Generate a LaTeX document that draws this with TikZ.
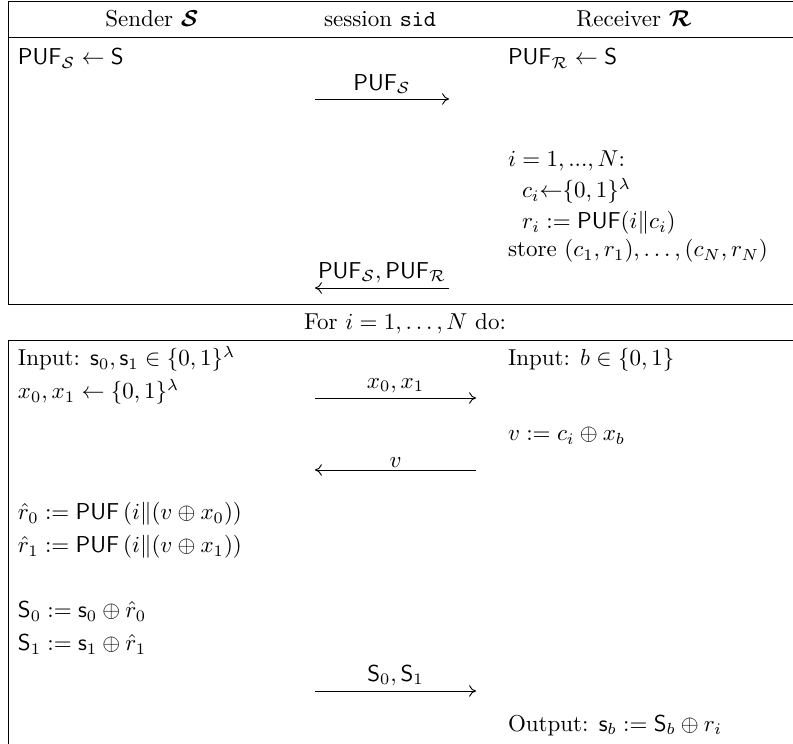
\documentclass[tikz,border=0pt]{standalone}
\usepackage{amsmath,amssymb,bm}
\usetikzlibrary{arrows.meta}
\newcommand{\PUF}{\mathsf{PUF}}
\begin{document}
\begin{tikzpicture}[x=0.4348pt,y=-0.4348pt,
  rule/.style={line width=0.4pt},
  txt/.style={anchor=base west,inner sep=0pt,outer sep=0pt},
  head/.style={anchor=base,inner sep=0pt,outer sep=0pt},
  msg/.style={line width=0.4pt,-{To[length=3pt,width=5pt]}},
  lbl/.style={above,inner sep=2pt}]
\useasboundingbox (0,0) rectangle (793,744);
% frames
\draw[rule] (793,1.5) -- (8,1.5) -- (8,304) -- (793,304);
\draw[rule] (8,37) -- (793,37);
\draw[rule] (793,340) -- (8,340) -- (8,744);
% header
\node[head] (hs) at (152,27) {Sender $\bm{\mathcal{S}}$};
\node[head] (hm) at (380,27) {session $\mathtt{sid}$};
\node[head] (hr) at (634,27) {Receiver $\bm{\mathcal{R}}$};
% phase 1
\node[txt] (s1) at (18,65) {$\PUF_{\mathcal{S}} \leftarrow \mathsf{S}$};
\node[txt] (r1) at (508,65) {$\PUF_{\mathcal{R}} \leftarrow \mathsf{S}$};
\coordinate (a1s) at (315,99); \coordinate (a1e) at (449,99);
\draw[msg] (a1s) -- (a1e) node[midway,lbl] (l1) {$\PUF_{\mathcal{S}}$};
\node[txt] (r2) at (508,167) {$i=1,...,N$:};
\node[txt] (r3) at (522,198) {$c_i{\leftarrow}\{0,1\}^\lambda$};
\node[txt] (r4) at (522,229) {$r_i:=\PUF(i\|c_i)$};
\node[txt] (r5) at (508,257) {store $(c_1,r_1),\ldots,(c_N,r_N)$};
\coordinate (a2s) at (449,288); \coordinate (a2e) at (315,288);
\draw[msg] (a2s) -- (a2e) node[midway,lbl] (l2) {$\PUF_{\mathcal{S}},\PUF_{\mathcal{R}}$};
% loop header
\node[head] (fr) at (405,330) {For $i=1,\ldots,N$ do:};
% phase 2
\node[txt] (s2) at (18,366) {Input: $\mathsf{s}_0,\mathsf{s}_1\in\{0,1\}^\lambda$};
\node[txt] (r6) at (508,366) {Input: $b\in\{0,1\}$};
\node[txt] (s3) at (18,399) {$x_0,x_1\leftarrow\{0,1\}^\lambda$};
\coordinate (a3s) at (315,398); \coordinate (a3e) at (476,398);
\draw[msg] (a3s) -- (a3e) node[midway,lbl] (l3) {$x_0,x_1$};
\node[txt] (r7) at (508,441) {$v:=c_i\oplus x_b$};
\coordinate (a4s) at (476,470); \coordinate (a4e) at (315,470);
\draw[msg] (a4s) -- (a4e) node[midway,above,inner sep=1pt] (l4) {$v$};
\node[txt] (s4) at (18,520) {$\hat r_0:=\PUF\left(i\|(v\oplus x_0)\right)$};
\node[txt] (s5) at (18,553) {$\hat r_1:=\PUF\left(i\|(v\oplus x_1)\right)$};
\node[txt] (s6) at (18,618) {$\mathsf{S}_0:=\mathsf{s}_0\oplus\hat r_0$};
\node[txt] (s7) at (18,651) {$\mathsf{S}_1:=\mathsf{s}_1\oplus\hat r_1$};
\coordinate (a5s) at (315,691); \coordinate (a5e) at (476,691);
\draw[msg] (a5s) -- (a5e) node[midway,lbl] (l5) {$\mathsf{S}_0,\mathsf{S}_1$};
\node[txt] (r8) at (508,731) {Output: $\mathsf{s}_b:=\mathsf{S}_b\oplus r_i$};
\end{tikzpicture}
\end{document}
